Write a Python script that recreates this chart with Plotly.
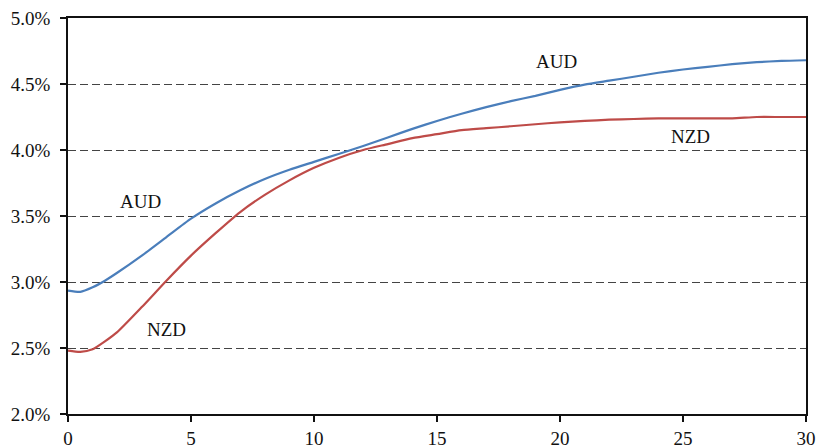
import plotly.graph_objects as go

maturity = [0, 0.5, 1, 1.5, 2, 3, 4, 5, 6, 7, 8, 9, 10, 11, 12, 13, 14, 15, 16, 17, 18, 19, 20, 21, 22, 23, 24, 25, 26, 27, 28, 29, 30]
aud = [2.935, 2.925, 2.96, 3.01, 3.07, 3.20, 3.34, 3.48, 3.595, 3.695, 3.78, 3.85, 3.91, 3.97, 4.03, 4.095, 4.16, 4.22, 4.275, 4.325, 4.37, 4.41, 4.455, 4.495, 4.525, 4.555, 4.585, 4.61, 4.63, 4.65, 4.665, 4.675, 4.68]
nzd = [2.48, 2.47, 2.49, 2.55, 2.62, 2.81, 3.01, 3.20, 3.37, 3.53, 3.66, 3.77, 3.865, 3.94, 4.00, 4.045, 4.09, 4.12, 4.15, 4.165, 4.18, 4.195, 4.21, 4.22, 4.23, 4.235, 4.24, 4.24, 4.24, 4.24, 4.25, 4.25, 4.25]

y_ticks = [2.0, 2.5, 3.0, 3.5, 4.0, 4.5, 5.0]
y_tick_labels = ["2.0%", "2.5%", "3.0%", "3.5%", "4.0%", "4.5%", "5.0%"]
x_ticks = [0, 5, 10, 15, 20, 25, 30]

labels = [("AUD", 19.85, 4.67), ("AUD", 2.95, 3.61), ("NZD", 4.0, 2.64), ("NZD", 25.3, 4.10)]

FONT = "Liberation Serif"

fig = go.Figure()
fig.add_trace(go.Scatter(x=maturity, y=aud, mode="lines", name="AUD",
                         line=dict(color="#4a7ebb", width=2.2, shape="spline", smoothing=0.6)))
fig.add_trace(go.Scatter(x=maturity, y=nzd, mode="lines", name="NZD",
                         line=dict(color="#be4b48", width=2.2, shape="spline", smoothing=0.6)))

for txt, x, y in labels:
    fig.add_annotation(x=x, y=y, text=txt, showarrow=False,
                       font=dict(family=FONT, size=19, color="#111111"))

fig.update_layout(
    width=820, height=448,
    margin=dict(l=68, r=14, t=18, b=34, autoexpand=False),
    paper_bgcolor="white", plot_bgcolor="white",
    showlegend=False,
    font=dict(family=FONT, size=19, color="#111111"),
)
fig.update_xaxes(range=[0, 30], tickvals=x_ticks, automargin=False,
                 tickfont=dict(family=FONT, size=19, color="#111111"),
                 ticklabeloverflow="allow",
                 showgrid=False, zeroline=False,
                 showline=True, linecolor="#111111", linewidth=1.5, mirror=True,
                 ticks="outside", ticklen=6, tickcolor="#111111", tickwidth=1.5)
fig.update_yaxes(range=[2.0, 5.0], tickvals=y_ticks, ticktext=y_tick_labels, automargin=False,
                 tickfont=dict(family=FONT, size=19, color="#111111"),
                 ticklabeloverflow="allow", ticklabelstandoff=6,
                 showgrid=True, gridcolor="#444444", gridwidth=1, griddash="8px,4px",
                 zeroline=False,
                 showline=True, linecolor="#111111", linewidth=1.5, mirror=True,
                 ticks="outside", ticklen=6, tickcolor="#111111", tickwidth=1.5)

fig.write_html("out.html", config={"displayModeBar": False},
               post_script="document.body.style.margin='0';document.body.style.overflow='hidden';")
